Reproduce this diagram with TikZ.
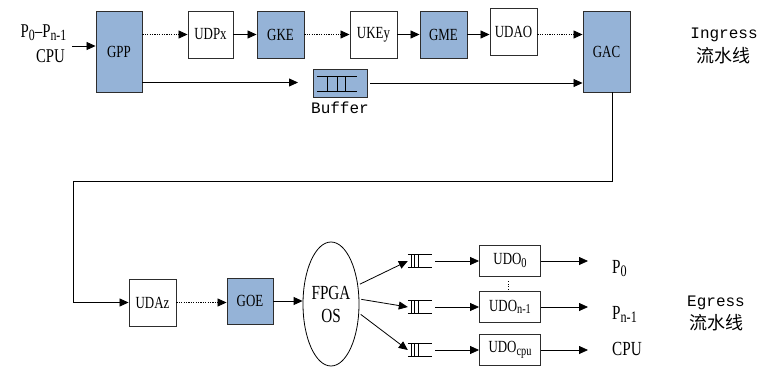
\documentclass[tikz,border=0pt]{standalone}
\usepackage{fontspec}
\setmainfont{Liberation Serif}[FakeStretch=0.76]
\newfontfamily\monof{Liberation Mono}
\newfontfamily\cjk{Noto Sans CJK SC}
\usetikzlibrary{arrows.meta,shapes.geometric,calc}
\definecolor{boxblue}{RGB}{149,179,215}
\definecolor{boxline}{RGB}{45,45,45}
\newcommand\dn[1]{\raisebox{-0.35ex}{\scalebox{0.8}{#1}}}
\begin{document}
\begin{tikzpicture}[x=1pt,y=-1pt,
  blk/.style={draw=boxline, line width=0.9pt, rectangle, inner sep=0pt,
    minimum width=47pt, minimum height=47pt, font=\fontsize{17}{19}\selectfont},
  gblk/.style={blk, fill=boxblue},
  arr/.style={draw=black, line width=0.8pt, -{Triangle[length=9pt,width=8pt]}},
  dotl/.style={dash pattern=on 1.2pt off 1.2pt},
  que/.style={rectangle, inner sep=0pt, minimum width=24pt, minimum height=12pt},
  lbl/.style={font=\fontsize{20}{22}\selectfont, inner sep=0pt},
  inl/.style={font=\fontsize{19.5}{21}\selectfont, inner sep=0pt},
  monol/.style={font=\monof\fontsize{16}{18}\selectfont, inner sep=0pt},
  cjkl/.style={font=\cjk\fontsize{18}{20}\selectfont, inner sep=0pt},
  qline/.style={line width=0.8pt}]

\useasboundingbox (0,0) rectangle (760,367);

% ---------- ingress ----------
\node[gblk, minimum width=46pt, minimum height=81pt] (gpp) at (119,51.5) {GPP};
\node[blk, minimum width=45pt] (udpx) at (210.5,34.5) {UDPx};
\node[gblk] (gke) at (280.5,34.5) {GKE};
\node[blk] (ukey) at (373.5,34.5) {UKEy};
\node[gblk] (gme) at (443.5,34.5) {GME};
\node[blk] (udao) at (513.5,32) {UDAO};
\node[gblk, minimum height=81pt] (gac) at (606.5,51.5) {GAC};
\node[gblk, minimum width=54pt, minimum height=28pt] (buf) at (340,83) {};
\node[que, minimum width=40pt, minimum height=14pt] (bufq) at (337,84) {};
\node[monol, anchor=base] (buft) at (340,113.5) {Buffer};

\node[inl, anchor=base] (inp) at (43.5,37) {P\dn{0}–P\dn{n-1}};
\node[inl, anchor=base] (inc) at (50.5,62.5) {CPU};
\coordinate (in) at (72,46);

\node[monol, anchor=base] (ing) at (724,38.5) {Ingress};
\node[cjkl] (ingc) at (723,56) {流水线};

% ---------- egress ----------
\node[blk] (udaz) at (152.5,302.5) {UDAz};
\node[gblk, minimum width=46pt, minimum height=46pt] (goe) at (250,301) {GOE};
\node[ellipse, draw=black, line width=0.8pt, minimum width=56pt, minimum height=124pt,
  inner sep=0pt, align=center, font=\fontsize{20}{23}\selectfont] (fpga) at (331,304) {FPGA\\OS};

\node[que] (q0) at (420,261) {};
\node[que] (q1) at (420,307) {};
\node[que] (q2) at (420,350) {};

\node[blk, minimum width=61pt, minimum height=31pt] (udo0) at (510,260.5) {UDO\dn{0}};
\node[blk, minimum width=61pt, minimum height=31pt] (udo1) at (510,307) {UDO\dn{n-1}};
\node[blk, minimum width=61pt, minimum height=31pt] (udo2) at (510,350) {UDO\dn{cpu}};

\coordinate (o0) at (588,261);
\coordinate (o1) at (588,307);
\coordinate (o2) at (588,350);
\node[lbl, anchor=base west] (p0) at (612,273) {P\dn{0}};
\node[lbl, anchor=base west] (p1) at (612,319) {P\dn{n-1}};
\node[lbl, anchor=base west] (p2) at (612,355) {CPU};

\node[monol, anchor=base] (egr) at (716,306) {Egress};
\node[cjkl] (egrc) at (716,323) {流水线};

\coordinate (turn) at (73,181);
\coordinate (bufin) at (298,82.5);

% ---------- queue symbols ----------
\foreach \q/\a/\b/\c in {bufq/0.27/0.5/0.7, q0/0.14/0.28/0.42, q1/0.14/0.28/0.42, q2/0.14/0.28/0.42}{
  \draw[qline] (\q.north west) -- (\q.north east);
  \draw[qline] (\q.south west) -- (\q.south east);
  \foreach \f in {\a,\b,\c}
    \draw[qline] ($(\q.north west)!\f!(\q.north east)$) -- ($(\q.south west)!\f!(\q.south east)$);
}

% ---------- connectors ----------
\draw[arr] (in) -- (in -| gpp.west);
\draw[arr, dotl] (gpp.east |- udpx) -- (udpx.west);
\draw[arr] (udpx.east) -- (gke.west);
\draw[arr, dotl] (gke.east) -- (ukey.west);
\draw[arr] (ukey.east) -- (gme.west);
\draw[arr] (gme.east) -- (gme.east -| udao.west);
\draw[arr, dotl] (udao.east |- gme.east) -- (gac.west |- gme.east);
\draw[arr] (gpp.east |- bufin) -- (bufin);
\draw[arr, shorten <=3pt] (buf.east) -- (buf.east -| gac.west);

\draw[arr] ([xshift=5.5pt]gac.south) |- (turn) |- (udaz.west);
\draw[arr, dotl] (udaz.east) -- (udaz.east -| goe.west);
\draw[arr] (goe.east) -- (goe.east -| fpga.west);

\draw[arr, shorten <=2pt] (fpga.35) -- (q0.west);
\draw[arr, shorten <=2pt] (fpga.10) -- (q1.west);
\draw[arr, shorten <=2pt] (fpga.-18) -- (q2.west);

\draw[arr, shorten <=3pt] (q0.east) -- (udo0.west |- q0.east);
\draw[arr, shorten <=3pt] (q1.east) -- (udo1.west |- q1.east);
\draw[arr, shorten <=3pt] (q2.east) -- (udo2.west |- q2.east);

\draw[arr] (udo0.east |- o0) -- (o0);
\draw[arr] (udo1.east |- o1) -- (o1);
\draw[arr] (udo2.east |- o2) -- (o2);

\draw[line width=0.8pt, dash pattern=on 0.8pt off 1.6pt] ([xshift=-2pt,yshift=-5pt]udo0.south) -- ([xshift=-2pt,yshift=-14pt]udo0.south);
\end{tikzpicture}
\end{document}
